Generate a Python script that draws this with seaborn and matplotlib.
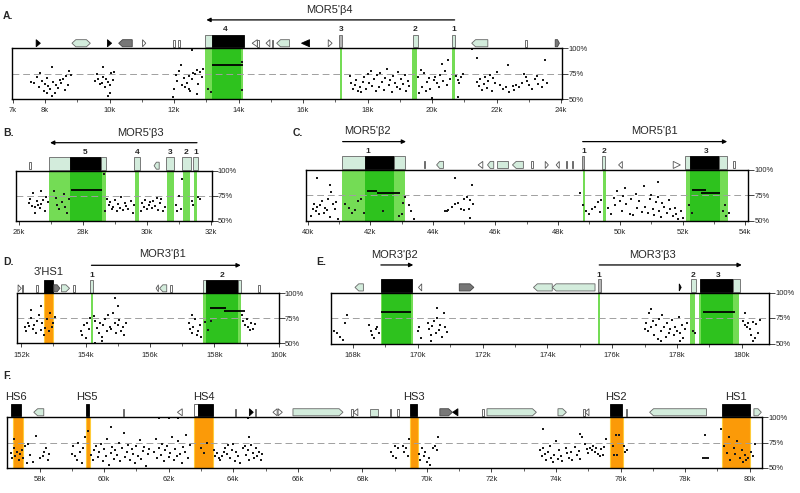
import matplotlib
matplotlib.use("Agg")
import matplotlib.pyplot as plt
from matplotlib.patches import Polygon
import seaborn as sns
import pandas as pd

sns.set_theme(style="white")
plt.rcParams["font.family"] = ["Liberation Sans", "DejaVu Sans"]

# ======================= DATA =======================
# ---- Panel A ----
A_xlim = (6.98, 24.04)
A_ticks = [7, 8, 10, 12, 14, 16, 18, 20, 22, 24]
A_green = [(12.97, 14.15), (17.15, 17.22), (19.38, 19.52), (20.63, 20.70)]
A_core = [(13.17, 14.08)]
A_orange = []
A_segments = [(13.17, 14.15, 84)]
A_features = [(7.72, 7.85, "k>"), (8.83, 9.40, "h"), (9.93, 10.06, "k>"), (10.28, 10.70, "g<"),
              (11.02, 11.12, "t>"), (11.97, 12.03, "b"), (12.13, 12.18, "b"), (12.97, 13.16, "E"),
              (13.16, 14.17, "K"), (14.42, 14.58, "t<"), (14.58, 14.62, "b"), (14.85, 14.97, "t<"),
              (15.04, 15.08, "b"), (15.18, 15.58, "p<"), (15.95, 16.20, "k<"), (16.78, 16.90, "t>"),
              (17.12, 17.22, "G"), (19.40, 19.55, "E"), (20.63, 20.71, "E"), (21.23, 21.73, "p<"),
              (22.87, 22.93, "b"), (23.82, 23.95, "g>")]
A_numbers = [(13.6, "4"), (17.17, "3"), (19.47, "2"), (20.67, "1")]
A_arrows = [(20.70, 13.00)]
A_genes = [(16.8, "MOR5'β4")]
A_dots = [(7.55,67),(7.65,66),(7.75,72),(7.8,62),(7.9,68),(7.95,58),(8.0,65),(8.05,71),(8.1,63),(8.15,60),
          (8.2,82),(8.25,67),(8.3,56),(8.35,64),(8.4,61),(8.45,69),(8.5,66),(8.55,70),(8.6,59),(8.65,73),
          (8.7,64),(8.75,78),(8.8,74),(8.2,53),(7.85,76),(8.05,56),
          (9.55,68),(9.6,75),(9.65,70),(9.7,65),(9.75,66),(9.8,72),(9.85,62),(9.9,70),(9.95,67),(10.0,64),
          (10.05,76),(10.1,69),(9.8,82),(9.95,53),(10.0,56),(10.15,77),
          (11.95,52),(12.0,60),(12.05,74),(12.1,68),(12.15,78),(12.2,84),(12.25,64),(12.3,71),(12.35,62),
          (12.4,66),(12.45,73),(12.5,58),(12.55,70),(12.6,76),(12.65,75),(12.7,79),(12.75,65),(12.8,77),
          (12.85,72),(12.9,80),(12.55,98),(12.45,60),(12.7,55),
          (13.05,60),(13.15,57),(14.1,86),(14.12,59),
          (17.45,73),(17.5,66),(17.55,60),(17.6,64),(17.65,69),(17.7,58),(17.75,62),(17.8,57),(17.85,67),
          (17.9,72),(17.95,60),(18.0,75),(18.05,66),(18.1,78),(18.15,63),(18.2,70),(18.25,58),(18.3,74),
          (18.35,62),(18.4,76),(18.45,67),(18.5,59),(18.55,71),(18.6,80),(18.65,64),(18.7,69),(18.75,57),
          (18.8,73),(18.85,66),(18.9,62),(18.95,77),(19.0,60),(19.05,70),(19.1,65),(19.15,74),(19.2,58),
          (19.25,68),(19.3,63),(19.55,72),(19.6,56),(19.65,79),(19.7,62),(19.75,76),(19.8,58),(19.85,67),
          (19.9,71),(19.95,60),(20.0,51),(20.05,69),(20.1,72),(20.15,66),(20.2,62),(20.25,74),(20.3,85),
          (20.35,68),(20.4,78),(20.45,64),(20.5,88),(20.55,70),(20.75,73),(20.8,69),(20.85,66),(20.9,72),
          (20.95,75),(20.8,52),
          (21.4,67),(21.45,63),(21.5,70),(21.55,59),(21.6,65),(21.65,72),(21.7,61),(21.75,68),(21.8,74),
          (21.85,58),(21.9,71),(21.95,66),(22.0,77),(22.1,64),(22.2,60),(22.3,62),(22.35,84),(22.4,57),
          (22.5,63),(22.55,59),(22.6,64),(22.7,62),(22.8,66),(22.85,75),(22.9,72),(22.95,68),(23.0,64),
          (23.1,60),(23.2,70),(23.25,73),(23.3,65),(23.4,62),(23.45,69),(23.5,88),(23.55,66),(21.25,99),
          (21.4,90)]

# ---- Panel B ----
B_xlim = (25.906, 32.02)
B_ticks = [26, 28, 30, 32]
B_green = [(26.94, 28.72), (29.62, 29.75), (30.62, 30.84), (31.12, 31.34), (31.47, 31.56)]
B_core = [(27.6, 28.6)]
B_orange = []
B_segments = [(27.62, 28.6, 81)]
B_features = [(26.32, 26.36, "b"), (26.94, 27.60, "E"), (27.60, 28.56, "K"), (28.56, 28.72, "E"),
              (29.60, 29.78, "E"), (30.22, 30.38, "p<"), (30.60, 30.84, "E"), (31.10, 31.37, "E"),
              (31.45, 31.58, "E")]
B_numbers = [(28.06, "5"), (29.69, "4"), (30.72, "3"), (31.23, "2"), (31.52, "1")]
B_arrows = [(31.56, 26.97)]
B_genes = [(29.8, "MOR5'β3")]
B_dots = [(26.3,68),(26.35,72),(26.4,65),(26.45,78),(26.5,64),(26.55,70),(26.6,66),(26.65,63),(26.7,67),
          (26.75,71),(26.8,60),(26.85,74),(26.9,69),(26.5,58),(26.7,80),
          (27.1,80),(27.15,73),(27.2,66),(27.25,62),(27.35,69),(27.4,77),(27.45,64),(27.5,58),(27.55,72),
          (28.65,97),(28.7,60),
          (28.75,72),(28.8,66),(28.85,69),(28.9,62),(28.95,64),(29.0,71),(29.05,60),(29.1,67),(29.15,63),
          (29.2,74),(29.25,61),(29.3,68),(29.35,65),(29.4,62),(29.5,70),(29.55,58),(29.6,66),
          (29.8,60),(29.85,68),(29.9,64),(29.95,71),(30.0,62),(30.05,66),(30.1,69),(30.15,63),(30.2,70),
          (30.25,65),(30.3,73),(30.35,61),(30.4,68),(30.45,72),(30.5,60),(30.55,64),(30.9,66),(30.95,60),
          (31.0,75),(31.05,62),(31.4,70),(31.45,66),(31.6,74),(31.65,72),(31.1,92)]

# ---- Panel C ----
C_xlim = (39.926, 54.096)
C_ticks = [40, 42, 44, 46, 48, 50, 52, 54]
C_green = [(41.08, 43.12), (48.80, 48.86), (49.45, 49.55), (52.10, 53.45)]
C_core = [(41.83, 42.76), (52.25, 53.20)]
C_orange = []
C_segments = [(41.88, 42.2, 79.5), (42.2, 42.95, 77.5), (52.3, 52.75, 80), (52.6, 53.2, 77.5)]
C_features = [(41.08, 41.83, "E"), (41.83, 42.76, "K"), (42.76, 43.12, "E"), (43.71, 43.76, "b"),
              (44.12, 44.34, "p<"), (45.45, 45.60, "t<"), (45.75, 45.95, "p<"), (46.05, 46.40, "e"),
              (46.55, 46.90, "p<"), (47.15, 47.20, "b"), (47.60, 47.70, "t>"), (47.95, 48.05, "t<"),
              (48.25, 48.30, "b"), (48.45, 48.50, "b"), (48.79, 48.85, "G"), (49.42, 49.52, "E"),
              (49.95, 50.07, "t<"), (51.70, 51.93, "t>"), (52.08, 52.24, "E"), (52.24, 53.18, "K"),
              (53.18, 53.41, "E"), (53.60, 53.67, "b")]
C_numbers = [(41.9, "1"), (48.82, "1"), (49.47, "2"), (52.75, "3")]
C_arrows = [(41.11, 43.14), (48.80, 53.43)]
C_genes = [(41.9, "MOR5'β2"), (51.1, "MOR5'β1")]
C_dots = [(40.1,55),(40.15,62),(40.2,66),(40.25,60),(40.3,64),(40.35,57),(40.4,65),(40.45,69),(40.5,58),
          (40.55,63),(40.6,61),(40.65,71),(40.7,54),(40.75,78),(40.8,66),(40.85,62),(40.9,68),(40.3,92),
          (40.7,85),(40.95,52),
          (41.2,66),(41.3,63),(41.4,58),(41.5,61),(41.6,69),(41.7,71),(41.8,58),(42.4,60),(42.9,55),
          (43.0,57),(43.05,67),(43.1,73),(43.25,65),(43.3,60),(43.4,52),
          (44.4,60),(44.45,60),(44.5,61),(44.6,64),(44.7,66),(44.8,67),(44.9,62),(45.0,71),(45.1,73),
          (45.2,70),(45.3,66),(45.15,62),(45.0,61),(45.2,53),(44.7,92),(45.25,85),
          (48.7,77),(48.8,65),(48.9,60),(49.0,57),(49.1,62),(49.2,64),(49.3,68),(49.35,59),(49.4,70),
          (49.6,63),(49.7,57),
          (49.8,72),(49.85,65),(49.9,79),(50.0,69),(50.05,60),(50.1,74),(50.15,82),(50.2,66),(50.3,57),
          (50.35,71),(50.4,56),(50.5,76),(50.55,63),(50.6,69),(50.7,59),(50.75,84),(50.8,64),(50.9,58),
          (50.95,71),(51.0,75),(51.05,62),(51.1,56),(51.15,68),(51.2,73),(51.25,60),(51.3,54),(51.35,67),
          (51.4,64),(51.5,58),(51.55,70),(51.6,62),(51.7,55),(51.75,63),(51.8,57),(51.85,52),(51.95,60),
          (52.0,53),(51.2,88),
          (52.2,65),(52.3,58),(53.3,60),(53.35,65),(53.4,55),(53.5,58)]

# ---- Panel D ----
D_xlim = (151.876, 159.96)
D_ticks = [152, 154, 156, 158, 160]
D_green = [(154.18, 154.24), (157.65, 158.82)]
D_core = [(157.75, 158.74)]
D_orange = [(152.71, 152.99)]
D_segments = [(157.85, 158.35, 85), (158.3, 158.95, 82)]
D_features = [(151.90, 152.00, "t>"), (152.02, 152.05, "b"), (152.46, 152.52, "b"), (152.71, 152.99, "K"),
              (153.01, 153.20, "g>"), (153.25, 153.50, "p>"), (153.62, 153.66, "b"), (154.15, 154.22, "E"),
              (156.19, 156.26, "t<"), (156.30, 156.52, "p<"), (156.63, 156.67, "b"), (157.65, 157.75, "E"),
              (157.75, 158.74, "K"), (158.74, 158.82, "E"), (159.35, 159.42, "b")]
D_numbers = [(154.18, "1"), (158.25, "2")]
D_arrows = [(154.18, 158.82)]
D_genes = [(156.4, "MOR3'β1")]
D_hs = [(152.86, "3'HS1")]
D_dots = [(152.1,66),(152.15,62),(152.2,70),(152.25,67),(152.3,75),(152.35,64),(152.4,68),(152.45,60),
          (152.5,72),(152.55,78),(152.6,63),(152.65,70),(152.7,58),(152.75,65),(152.8,74),(152.85,62),
          (152.9,80),(152.95,66),(153.0,70),(153.05,76),(152.3,83),(152.6,87),
          (153.85,62),(153.9,58),(153.95,68),(154.0,55),(154.05,70),(154.1,64),(154.15,75),(154.25,77),
          (154.3,72),(154.35,65),(154.4,60),(154.45,70),(154.5,56),(154.55,68),(154.6,74),(154.65,62),
          (154.7,78),(154.75,66),(154.8,64),(154.85,80),(154.9,70),(154.95,60),(155.0,68),(155.05,73),
          (155.1,62),(155.15,66),(155.2,58),(155.25,70),(154.9,95),(155.0,87),(154.3,50.5),(154.5,52),
          (157.2,70),(157.25,64),(157.3,60),(157.35,66),(157.4,74),(157.45,58),(157.5,62),(157.55,68),
          (157.6,56),(157.3,78),(157.7,71),(157.8,63),(157.9,72),
          (158.85,78),(158.9,72),(158.95,68),(159.0,74),(159.05,66),(159.1,63),(159.15,70),(159.2,64),
          (159.25,69)]

# ---- Panel E ----
E_xlim = (167.32, 180.85)
E_ticks = [168, 170, 172, 174, 176, 178, 180]
E_green = [(168.86, 169.84), (175.55, 175.62), (178.41, 178.55), (178.67, 179.92)]
E_core = [(168.9, 169.8), (178.75, 179.72)]
E_orange = []
E_segments = [(168.85, 169.8, 80.5), (178.8, 179.8, 80.5)]
E_features = [(168.06, 168.32, "p<"), (168.86, 169.81, "K"), (170.02, 170.12, "t<"), (171.28, 171.73, "g>"),
              (173.57, 174.15, "p<"), (174.15, 175.47, "p<"), (175.57, 175.64, "G"), (178.07, 178.13, "k>"),
              (178.44, 178.59, "E"), (178.71, 179.72, "K"), (179.72, 179.95, "E")]
E_numbers = [(175.6, "1"), (178.5, "2"), (179.28, "3")]
E_arrows = [(168.86, 169.86), (175.60, 180.00)]
E_genes = [(169.27, "MOR3'β2"), (177.25, "MOR3'β3")]
E_dots = [(167.4,62),(167.5,60),(167.6,56),(167.7,53),(167.75,70),(167.8,78),
          (168.5,68),(168.55,62),(168.6,58),(168.65,55),(168.7,64),(168.75,66),(168.8,60),
          (170.0,62),(170.05,66),(170.1,55),(170.3,70),(170.35,64),(170.4,58),(170.45,67),(170.5,72),
          (170.55,60),(170.6,75),(170.65,63),(170.7,68),(170.75,56),(170.8,80),(170.85,66),(170.9,61),
          (170.4,52),(170.6,85),
          (177.0,64),(177.05,70),(177.1,62),(177.15,80),(177.2,66),(177.25,72),(177.3,58),(177.35,68),
          (177.4,54),(177.45,74),(177.5,62),(177.55,78),(177.6,66),(177.65,56),(177.7,70),(177.75,60),
          (177.8,64),(177.85,73),(177.9,58),(177.95,66),(178.0,62),(178.05,76),(178.1,60),(178.15,68),
          (178.2,55),(178.25,64),(178.3,70),(177.2,84),(177.5,52),(178.1,52),(178.5,62),(178.55,60),
          (180.05,72),(180.1,68),(180.15,66),(180.2,70),(180.25,64),(180.3,58),(180.35,71),(180.4,55),
          (180.45,69),(180.5,60),(180.55,73),(180.1,80),(180.35,52)]

# ---- Panel F ----
F_xlim = (57.0, 80.39)
F_ticks = [58, 60, 62, 64, 66, 68, 70, 72, 74, 76, 78, 80]
F_green = []
F_core = []
F_orange = [(57.19, 57.48), (59.44, 59.57), (62.78, 63.37), (69.49, 69.72), (75.66, 76.06), (79.15, 80.02)]
F_segments = []
F_features = [(57.12, 57.43, "K"), (57.82, 58.13, "p<"), (59.43, 59.53, "K"), (60.58, 60.63, "b"),
              (62.27, 62.42, "t<"), (62.78, 62.90, "W"), (62.90, 63.37, "K"), (64.05, 64.10, "b"),
              (64.50, 64.62, "k>"), (64.66, 64.70, "b"), (65.23, 65.36, "t<"), (65.39, 65.52, "t>"),
              (65.85, 67.40, "p>"), (67.66, 67.72, "b"), (67.72, 67.86, "t<"), (68.23, 68.48, "e"),
              (68.85, 68.89, "b"), (69.08, 69.12, "b"), (69.49, 69.69, "K"), (70.40, 70.79, "g>"),
              (70.80, 70.96, "k<"), (71.72, 71.76, "b"), (71.86, 73.39, "p>"), (74.06, 74.32, "p>"),
              (74.84, 74.90, "b"), (74.90, 75.02, "t<"), (75.66, 76.04, "K"), (76.16, 76.20, "b"),
              (76.90, 78.66, "p<"), (79.15, 80.02, "K"), (80.13, 80.36, "p>")]
F_numbers = []
F_arrows = []
F_genes = []
F_hs = [(57.28, "HS6"), (59.48, "HS5"), (63.1, "HS4"), (69.59, "HS3"), (75.85, "HS2"), (79.58, "HS1")]
F_dots = [(57.1,65),(57.15,60),(57.2,70),(57.25,62),(57.3,66),(57.35,58),(57.4,64),(57.45,68),(57.5,60),
          (57.55,72),(57.6,55),(57.65,74),(57.7,63),(57.8,56),(58.0,60),(58.1,62),(58.2,70),(58.25,58),
          (58.3,64),(57.2,78),(57.9,81),(58.15,66),
          (59.0,64),(59.05,72),(59.1,62),(59.15,58),(59.2,75),(59.25,66),(59.3,55),(59.35,70),(59.4,80),
          (59.6,63),(59.65,58),(59.7,68),(59.75,72),(59.8,61),(59.85,66),(59.9,74),(59.95,57),(60.0,69),
          (60.05,62),(60.1,78),(60.15,53),(60.2,65),(60.25,71),(60.3,59),(60.35,68),(60.4,63),(60.45,75),
          (60.5,57),(60.55,70),(60.6,84),(60.65,61),(60.7,66),(60.75,73),(60.8,58),(60.85,69),(60.9,64),
          (60.95,55),(61.0,72),(61.05,62),(61.1,77),(61.15,59),(61.2,67),(61.25,71),(61.3,52),(61.35,64),
          (61.4,69),(60.2,90),(59.5,86),
          (61.55,66),(61.6,78),(61.65,60),(61.7,70),(61.75,63),(61.8,74),(61.85,57),(61.9,68),(61.95,72),
          (62.0,61),(62.05,65),(62.1,80),(62.15,58),(62.2,69),(62.25,62),(62.3,76),(62.35,64),(62.4,55),
          (62.45,71),(62.5,66),(62.55,82),(62.6,60),(62.65,73),(61.7,99),(62.0,99),(62.3,99),
          (63.0,70),(63.1,65),(63.2,75),
          (63.4,68),(63.45,62),(63.5,65),(63.55,60),(63.6,58),(63.65,62),(63.7,66),(63.75,70),(63.8,64),
          (63.85,73),(63.9,60),(63.95,68),(64.0,74),(64.05,57),(64.1,66),(64.15,62),(64.2,55),(64.3,70),
          (64.35,72),(64.4,63),(64.45,68),(64.5,58),(64.55,73),(64.6,65),(64.65,60),(64.7,70),(64.75,62),
          (64.8,66),(64.85,58),(64.9,64),(64.5,80),(64.45,99),
          (68.9,66),(68.95,62),(69.0,72),(69.05,60),(69.1,70),
          (69.25,72),(69.3,66),(69.35,70),(69.4,62),(69.45,78),(69.75,64),(69.8,58),(69.85,70),(69.9,62),
          (69.95,66),(70.0,56),(70.05,60),(70.1,53),(70.2,70),(70.25,72),(70.3,68),(70.35,80),
          (73.5,68),(73.55,62),(73.6,70),(73.65,64),(73.7,58),(73.75,66),(73.8,72),(73.85,60),(73.9,56),
          (73.95,63),(74.0,76),(74.05,59),(74.1,68),(74.15,62),(74.2,57),(74.3,70),(74.35,65),(74.4,60),
          (74.45,66),(74.5,58),(74.6,71),(74.65,63),(74.7,67),(74.75,59),(74.8,80),(74.9,74),(74.95,69),
          (75.0,65),(75.05,70),(75.1,68),(75.15,72),(75.2,66),(75.25,70),(75.3,64),(75.35,62),(75.4,69),
          (75.45,63),(75.5,71),(75.55,78),(73.6,88),(74.75,83),
          (75.75,72),(75.85,82),(75.95,82),(75.9,63),(75.8,63),(76.1,72),(76.15,66),(76.2,68),
          (78.55,60),(78.6,60),(78.65,60),(78.7,60),(78.6,82),
          (79.1,88),(79.2,72),(79.3,65),(79.35,80),(79.4,58),(79.5,70),(79.55,64),(79.6,76),(79.7,60),
          (79.75,68),(79.8,56),(79.85,63),(79.9,58),(79.95,60),(80.05,66),(80.1,62),(80.15,74)]

PCT_TICKS = [50, 75, 100]
PCT_LABELS = ["50%", "75%", "100%"]

# ======================= STYLE / LAYOUT =======================
W, H = 800, 493
LIGHT = "#d3ecdc"
GREEN_L = "#74dc55"
GREEN_D = "#2ec21e"
ORANGE = "#fb9a08"
ORANGE_EDGE = "#ffcc3a"

fig = plt.figure(figsize=(8, 4.93), dpi=100)


def add_ax(x0, x1, y0, y1):
    return fig.add_axes([x0 / W, 1 - y1 / H, (x1 - x0) / W, (y1 - y0) / H])


def draw_feature(ax, s, e, kind):
    tall = kind in ("E", "K", "G", "W")
    y0, y1 = (100.8, 113.5) if tall else (101.5, 108.5)
    ym = (y0 + y1) / 2
    w = e - s
    d = min(0.45 * w, 0.12)
    fc, ec = LIGHT, "#666666"
    if kind in ("E", "e"):
        pts = [(s, y0), (e, y0), (e, y1), (s, y1)]
    elif kind == "K":
        pts = [(s, y0), (e, y0), (e, y1), (s, y1)]
        fc, ec = "black", "black"
    elif kind == "G":
        pts = [(s, y0), (e, y0), (e, y1), (s, y1)]
        fc = "#b5b5b5"
    elif kind in ("b", "W"):
        pts = [(s, y0), (e, y0), (e, y1), (s, y1)]
        fc, ec = "white", "#555555"
    elif kind in ("p>", "g>"):
        pts = [(s, y0), (e - d, y0), (e, ym), (e - d, y1), (s, y1)]
        if kind == "g>":
            fc, ec = "#777777", "#444444"
    elif kind in ("p<", "g<"):
        pts = [(s + d, y0), (e, y0), (e, y1), (s + d, y1), (s, ym)]
        if kind == "g<":
            fc, ec = "#777777", "#444444"
    elif kind == "h":
        pts = [(s + d, y0), (e - d, y0), (e, ym), (e - d, y1), (s + d, y1), (s, ym)]
    elif kind in ("t>", "k>"):
        pts = [(s, y0), (e, ym), (s, y1)]
        fc = "white" if kind == "t>" else "black"
        ec = "#555555" if kind == "t>" else "black"
    elif kind in ("t<", "k<"):
        pts = [(e, y0), (s, ym), (e, y1)]
        fc = "white" if kind == "t<" else "black"
        ec = "#555555" if kind == "t<" else "black"
    ax.add_patch(Polygon(pts, closed=True, facecolor=fc, edgecolor=ec, lw=0.6, clip_on=False, zorder=5))


def panel(box, xlim, ticks, green, core, orange, segs, feats, nums, arrows, genes, dots,
          hs=None, num_y=118, arrow_y=128, gene_y=138, hs_y=121):
    ax = add_ax(*box)
    ax.set_xlim(*xlim)
    ax.set_ylim(50, 100)
    for s, e in green:
        ax.axvspan(s, e, color=GREEN_L, lw=0, zorder=1)
    for s, e in core:
        ax.axvspan(s, e, color=GREEN_D, lw=0, zorder=1.5)
    for s, e in orange:
        ax.axvspan(s, e, facecolor=ORANGE, edgecolor=ORANGE_EDGE, lw=0.8, zorder=1)
    ax.axhline(75, color="#a0a0a0", lw=0.7, ls=(0, (7, 4)), zorder=2)
    df = pd.DataFrame(dots, columns=["pos", "pct"])
    sns.scatterplot(data=df, x="pos", y="pct", ax=ax, s=1.5, marker="s", color="#1a1a1a",
                    linewidth=0, legend=False, zorder=3)
    for x0, x1, y in segs:
        ax.hlines(y, x0, x1, color="black", lw=1.3, zorder=4)
    for s, e, k in feats:
        draw_feature(ax, s, e, k)
    for x, t in nums:
        ax.text(x, num_y, t, ha="center", va="center", fontsize=6, fontweight="bold", clip_on=False)
    for tail, head in arrows:
        ax.annotate("", xy=(head, arrow_y), xytext=(tail, arrow_y), xycoords="data",
                    arrowprops=dict(arrowstyle="-|>", color="black", lw=0.9, mutation_scale=6,
                                    shrinkA=0, shrinkB=0),
                    annotation_clip=False)
    for x, t in genes:
        ax.text(x, gene_y, t, ha="center", va="center", fontsize=8, clip_on=False)
    if hs:
        for x, t in hs:
            ax.text(x, hs_y, t, ha="center", va="center", fontsize=8, clip_on=False)
    ax.set_xticks(ticks)
    ax.set_xticklabels([f"{t}k" for t in ticks])
    minors = [t for t in range(int(xlim[0]) + 1, int(xlim[1]) + 1) if t not in ticks]
    ax.set_xticks(minors, minor=True)
    ax.set_yticks(PCT_TICKS)
    ax.set_yticklabels(PCT_LABELS)
    ax.tick_params(axis="x", which="major", bottom=True, length=3, width=0.6, labelsize=5.5, pad=3,
                   direction="out")
    ax.tick_params(axis="x", which="minor", bottom=True, length=2, width=0.5, direction="out")
    ax.tick_params(axis="y", left=False, right=True, labelleft=False, labelright=True,
                   length=4, width=0.6, labelsize=5.5, pad=0.5, direction="out")
    for sp in ax.spines.values():
        sp.set_color("black")
        sp.set_linewidth(1.0)
        sp.set_zorder(6)
    ax.set_xlabel("")
    ax.set_ylabel("")
    return ax


panel((12.3, 562.3, 48.3, 99.0), A_xlim, A_ticks, A_green, A_core, A_orange, A_segments, A_features,
      A_numbers, A_arrows, A_genes, A_dots, num_y=119)
panel((16.0, 211.7, 170.7, 220.7), B_xlim, B_ticks, B_green, B_core, B_orange, B_segments, B_features,
      B_numbers, B_arrows, B_genes, B_dots)
panel((305.7, 748.0, 170.0, 220.7), C_xlim, C_ticks, C_green, C_core, C_orange, C_segments, C_features,
      C_numbers, C_arrows, C_genes, C_dots)
panel((17.3, 278.7, 293.3, 343.3), D_xlim, D_ticks, D_green, D_core, D_orange, D_segments, D_features,
      D_numbers, D_arrows, D_genes, D_dots, hs=D_hs, gene_y=139, hs_y=121)
panel((331.0, 769.3, 292.5, 343.5), E_xlim, E_ticks, E_green, E_core, E_orange, E_segments, E_features,
      E_numbers, E_arrows, E_genes, E_dots, num_y=117, arrow_y=127, gene_y=137)
panel((7.3, 762.3, 417.3, 467.7), F_xlim, F_ticks, F_green, F_core, F_orange, F_segments, F_features,
      F_numbers, F_arrows, F_genes, F_dots, hs=F_hs, hs_y=120)

for lab, (px, py) in {"A.": (3, 16), "B.": (3, 133), "C.": (293, 133), "D.": (3, 262),
                      "E.": (316, 262), "F.": (3, 376)}.items():
    fig.text(px / W, 1 - py / H, lab, fontsize=7.5, fontweight="bold", va="center", ha="left")

fig.savefig("out.png", dpi=100)
